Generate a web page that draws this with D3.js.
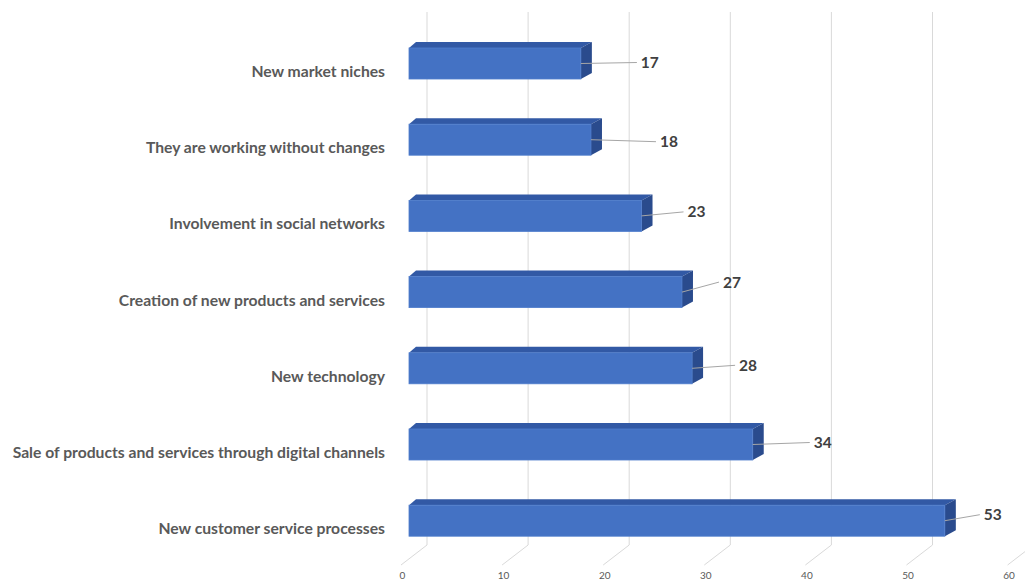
<!DOCTYPE html>
<html>
<head>
<meta charset="utf-8">
<script src="https://cdn.jsdelivr.net/npm/d3@7"></script>
<style>
  html, body { margin: 0; padding: 0; background: #fff; }
  svg { display: block; }
</style>
</head>
<body>
<svg id="chart" width="1025" height="586"></svg>
<script>
// Survey answers, top to bottom
const categories = [
  "New market niches",
  "They are working without changes",
  "Involvement in social networks",
  "Creation of new products and services",
  "New technology",
  "Sale of products and services through digital channels",
  "New customer service processes"
];
const values = [17, 18, 23, 27, 28, 34, 53];
const tickValues = [0, 10, 20, 30, 40, 50, 60];

// Hand-placed data label offsets (label left edge from bar end, vertical shift)
const labelNudge = [[60, -1], [69, 2], [46, -4], [41, -10], [47, -3], [61, -2], [39, -6]];

const svg = d3.select("#chart");

// Front plane of the bars
const x = d3.scaleLinear().domain([0, 60]).range([409, 409 + 606.6]);
const y = d3.scaleBand()
  .domain(categories)
  .range([25.4, 558.8])
  .paddingInner(0.593)
  .paddingOuter(0.2965);

const backDX = 18;     // back wall shift
const floorDX = -8;    // front edge of the floor
const wallTop = 12, wallBottom = 545, floorFront = 565;
const depthL = 7, depthR = 11, depthY = 6;

const colFront = "#4472C4", colTop = "#3259A5", colSide = "#2A4B8D";

// Gridlines on the back wall running onto the floor
const grid = svg.append("g").attr("fill", "none").attr("stroke", "#d9d9d9").attr("stroke-width", 1);
tickValues.forEach(v => {
  const xb = x(v) + backDX, xf = x(v) + floorDX;
  grid.append("polyline")
    .attr("points", `${xb},${wallTop} ${xb},${wallBottom} ${xf},${floorFront}`);
});

// Value axis labels along the floor edge
const axisScale = x.copy().range(x.range().map(r => r + floorDX + 1));
const axis = svg.append("g")
  .attr("transform", `translate(0, 572)`)
  .call(d3.axisBottom(axisScale).tickValues(tickValues).tickSize(0).tickPadding(0));
axis.select(".domain").remove();
axis.selectAll("text")
  .attr("fill", "#595959")
  .attr("font-family", "Lato, 'Open Sans', sans-serif")
  .attr("font-size", "10px")
  .attr("dy", "0.71em");

// 3D bars
const bars = svg.append("g");
categories.forEach((c, i) => {
  const x0 = x(0), x1 = x(values[i]);
  const yT = y(c), yB = y(c) + y.bandwidth();
  const g = bars.append("g");
  g.append("polygon")
    .attr("points", `${x0},${yT} ${x0 + depthL},${yT - depthY} ${x1 + depthR},${yT - depthY} ${x1},${yT}`)
    .attr("fill", colTop);
  g.append("polygon")
    .attr("points", `${x1},${yT} ${x1 + depthR},${yT - depthY} ${x1 + depthR},${yB - depthY} ${x1},${yB}`)
    .attr("fill", colSide);
  g.append("rect")
    .attr("x", x0).attr("y", yT)
    .attr("width", x1 - x0).attr("height", yB - yT)
    .attr("fill", colFront)
    .attr("stroke", "#4f7dcc").attr("stroke-width", 0.8);
});

// Category labels
svg.append("g")
  .selectAll("text")
  .data(categories)
  .join("text")
  .attr("x", 385)
  .attr("y", d => y(d) + y.bandwidth() / 2 + 8)
  .attr("dy", "0.35em")
  .attr("text-anchor", "end")
  .attr("fill", "#595959")
  .attr("font-family", "Lato, 'Open Sans', sans-serif")
  .attr("font-weight", "bold")
  .attr("font-size", "15.7px")
  .text(d => d);

// Data labels with leader lines
const labels = svg.append("g");
categories.forEach((c, i) => {
  const x1 = x(values[i]);
  const yc = y(c) + y.bandwidth() / 2;
  const lx = x1 + labelNudge[i][0];
  const ly = yc + labelNudge[i][1];
  labels.append("line")
    .attr("x1", x1).attr("y1", yc)
    .attr("x2", lx - 4).attr("y2", ly)
    .attr("stroke", "#a6a6a6").attr("stroke-width", 1);
  labels.append("text")
    .attr("x", lx).attr("y", ly)
    .attr("dy", "0.35em")
    .attr("fill", "#404040")
    .attr("font-family", "Lato, 'Open Sans', sans-serif")
    .attr("font-weight", "bold")
    .attr("font-size", "15.5px")
    .text(values[i]);
});
</script>
</body>
</html>
